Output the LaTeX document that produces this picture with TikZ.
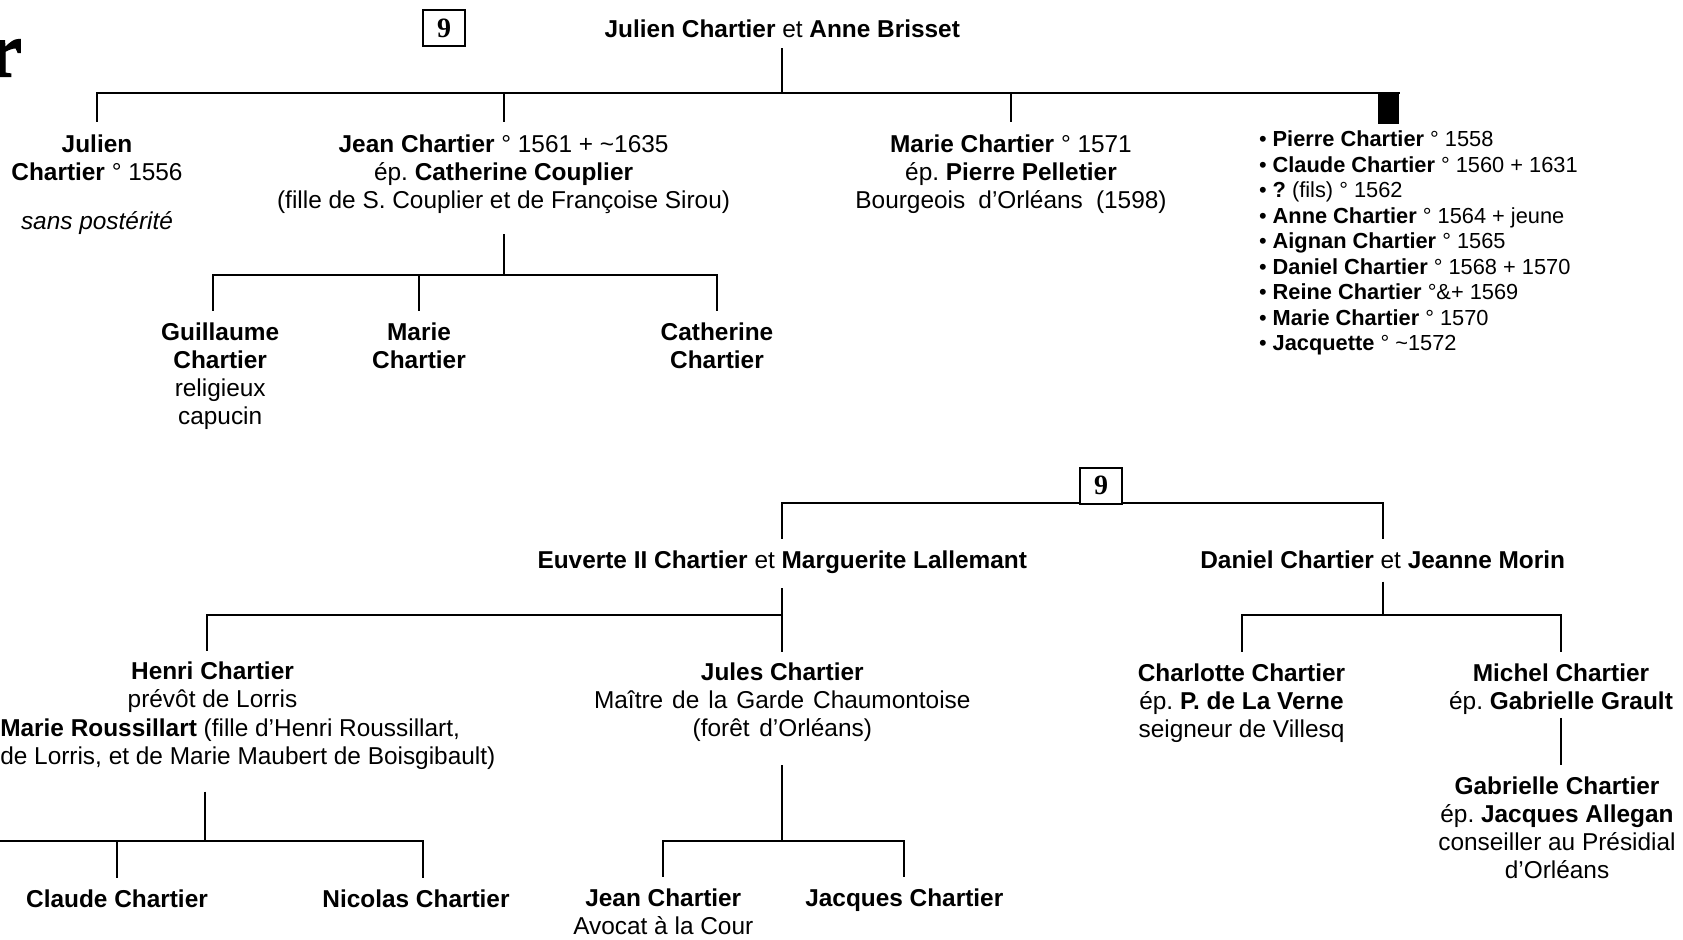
\documentclass[tikz,border=0pt]{standalone}
\usepackage{fontspec}
\setmainfont{Liberation Sans}
\newfontfamily\serifbold{Liberation Serif}
\newfontfamily\titlefont[BoldFeatures={FakeBold=1.5}]{Liberation Serif}
\usetikzlibrary{calc}
\newcommand\mainsz{\fontsize{12.2}{13.9}\selectfont}
\newcommand\listsz{\fontsize{10.9}{12.75}\selectfont}
\frenchspacing
\begin{document}
\begin{tikzpicture}[x=0.5pt,y=-0.5pt,line width=1pt,
  lbl/.style={inner sep=0pt,outer sep=0pt,anchor=north,align=center,font=\mainsz},
  lblw/.style={inner sep=0pt,outer sep=0pt,anchor=north west,align=left,font=\mainsz},
  lst/.style={inner sep=0pt,outer sep=0pt,anchor=north west,align=left,font=\listsz},
  numbox/.style={draw,line width=1pt,fill=white,minimum width=21pt,minimum height=18pt,inner sep=0pt,font=\serifbold\bfseries\fontsize{14}{14}\selectfont},
  kid/.style={shorten >=5pt},
  kidtop/.style={shorten >=5.6pt}]
\path[use as bounding box,fill=white] (0,0) rectangle (1683,939);

% title fragment
\node[inner sep=0pt,anchor=base east,font=\titlefont\bfseries\fontsize{39}{39}\selectfont] (ttl) at (23,76.5) {r};

% ---------- top family ----------
\node[lbl] (par1) at (782.3,17.8) {\strut\textbf{Julien Chartier} et \textbf{Anne Brisset}\strut};
\node[lbl] (J1) at (97,133.2) {\strut\textbf{Julien}\\\textbf{Chartier} ° 1556\\[10.85pt]\textit{sans postérité}\strut};
\node[lbl] (J2) at (503.6,133.2) {\strut\textbf{Jean Chartier} ° 1561 + \textasciitilde1635\\ép. \textbf{Catherine Couplier}\\(fille de S. Couplier et de Françoise Sirou)\strut};
\node[lbl] (M1) at (1011,133.2) {\strut\textbf{Marie Chartier} ° 1571\\ép. \textbf{Pierre Pelletier}\\Bourgeois\hspace{3.2pt} d’Orléans\hspace{3.2pt} (1598)\strut};
\node[fill=black,inner sep=0pt,minimum width=10.5pt,minimum height=15pt,anchor=north east] (S) at (1400,92.5) {};
\node[lst] (B) at (1259,128.85) {\strut• \textbf{Pierre Chartier} ° 1558\\
• \textbf{Claude Chartier} ° 1560 + 1631\\
• \textbf{?} (fils) ° 1562\\
• \textbf{Anne Chartier} ° 1564 + jeune\\
• \textbf{Aignan Chartier} ° 1565\\
• \textbf{Daniel Chartier} ° 1568 + 1570\\
• \textbf{Reine Chartier} °\&+ 1569\\
• \textbf{Marie Chartier} ° 1570\\
• \textbf{Jacquette} ° \textasciitilde1572};

\coordinate (b1) at (782.3,93);
\draw[shorten <=1.35pt] (par1.south) -- (b1);
\draw[kidtop] (b1) -| (J1.north);
\draw[kidtop] (b1) -| (J2.north);
\draw[kidtop] (b1) -| (M1.north);
\draw (b1) -- (b1 -| S.north east);

% Jean's children
\node[lbl] (G) at (220.2,321.2) {\strut\textbf{Guillaume}\\\textbf{Chartier}\\religieux\\capucin\strut};
\node[lbl] (M2) at (419,321.2) {\strut\textbf{Marie}\\\textbf{Chartier}\strut};
\node[lbl] (C2) at (717,321.2) {\strut\textbf{Catherine}\\\textbf{Chartier}\strut};
\coordinate (jb) at (503.6,275);
\draw[shorten <=8.7pt] (J2.south) -- (jb);
\draw[kid] (jb) -| ([xshift=-3.5pt]G.north);
\draw[kid] (jb) -| (M2.north);
\draw[kid] (jb) -| (C2.north);

% ---------- lower family ----------
\node[lbl] (E) at (782.3,548.8) {\strut\textbf{Euverte II Chartier} et \textbf{Marguerite Lallemant}\strut};
\node[lbl] (D) at (1382.7,548.8) {\strut\textbf{Daniel Chartier} et \textbf{Jeanne Morin}\strut};
\coordinate (b2) at (1101,503);
\draw[kid] (b2) -| (E.north);
\draw[kid] (b2) -| (D.north);
\node[numbox] (n9b) at (1101,485.5) {9};
\node[numbox] (n9a) at (444,28) {9};

% Euverte's children
\node[lbl] (H) at (212.5,660.5) {\strut\textbf{Henri Chartier}\\prévôt de Lorris\strut};
\node[lblw] (Hw) at (0.3,717.2) {\strut\textbf{Marie Roussillart} (fille d’Henri Roussillart,\\de Lorris, et de Marie Maubert de Boisgibault)\strut};
\node[lbl] (JU) at (782.3,661.2) {\strut\textbf{Jules Chartier}\\{\spaceskip=4.5pt Maître de la Garde Chaumontoise}\\(forêt\hspace{1.5pt} d’Orléans)\strut};
\coordinate (eb) at (782.3,615);
\draw[shorten <=5.85pt] (E.south) -- (eb);
\draw[kid] (eb) -| ([xshift=-3pt]H.north);
\draw[shorten >=4.5pt] (eb) -- (JU.north);

% Henri's children
\node[lbl] (CC) at (117,887.8) {\strut\textbf{Claude Chartier}\strut};
\node[lbl] (NC) at (416,887.8) {\strut\textbf{Nicolas Chartier}\strut};
\coordinate (hb) at (205.4,840.7);
\coordinate (hl) at (-5,840.7);
\draw[shorten <=9.45pt] (hb |- Hw.south) -- (hb);
\draw (hb) -- (hl);
\draw[kid] (hb) -| (CC.north);
\draw[kid] (hb) -| ([xshift=3.5pt]NC.north);

% Jules's children
\node[lbl] (JE) at (663.3,887.2) {\strut\textbf{Jean Chartier}\\Avocat à la Cour\strut};
\node[lbl] (JA) at (904.3,887.2) {\strut\textbf{Jacques Chartier}\strut};
\coordinate (jub) at (782.3,840.7);
\draw[shorten <=10.2pt] (JU.south) -- (jub);
\draw[kid] (jub) -| (JE.north);
\draw[kid] (jub) -| (JA.north);

% Daniel's children
\node[lbl] (CH) at (1241.5,662.2) {\strut\textbf{Charlotte Chartier}\\ép. \textbf{P. de La Verne}\\seigneur de Villesq\strut};
\node[lbl] (MI) at (1561,662.2) {\strut\textbf{Michel Chartier}\\ép. \textbf{Gabrielle Grault}\strut};
\node[lbl] (GA) at (1557,775.5) {\strut\textbf{Gabrielle Chartier}\\ép. \textbf{Jacques Allegan}\\conseiller au Présidial\\d’Orléans\strut};
\coordinate (db) at (1382.7,615);
\draw[shorten <=2.55pt] (D.south) -- (db);
\draw[kid] (db) -| (CH.north);
\draw[kid] (db) -| (MI.north);
\draw[shorten >=5.25pt] (MI.south) -- (MI.south |- GA.north);
\end{tikzpicture}
\end{document}
